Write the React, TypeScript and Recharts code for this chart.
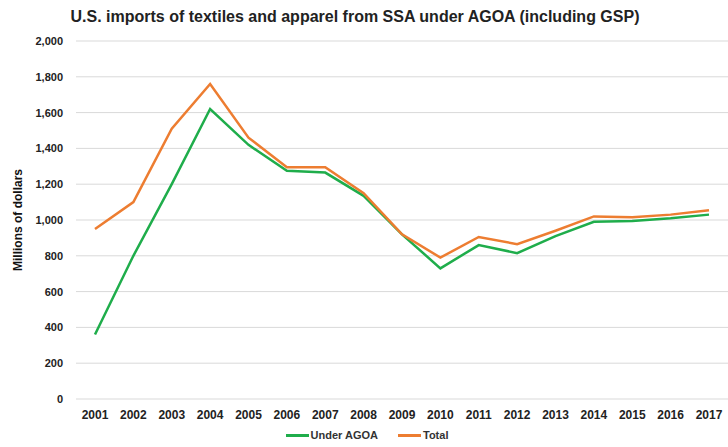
import { LineChart, Line, XAxis, YAxis, CartesianGrid, Legend } from "recharts";

const years = ["2001", "2002", "2003", "2004", "2005", "2006", "2007", "2008", "2009", "2010", "2011", "2012", "2013", "2014", "2015", "2016", "2017"];
const underAgoa = [360, 800, 1200, 1620, 1420, 1275, 1265, 1135, 920, 730, 860, 815, 910, 990, 995, 1010, 1030];
const total = [950, 1100, 1510, 1760, 1460, 1295, 1295, 1150, 920, 790, 905, 865, 940, 1020, 1015, 1030, 1055];
const yTicks = [0, 200, 400, 600, 800, 1000, 1200, 1400, 1600, 1800, 2000];

const GREEN = "#1fad4b";
const ORANGE = "#ed7d31";
const FONT = "'Liberation Sans', Arial, sans-serif";

const data = years.map((year, i) => ({ year, underAgoa: underAgoa[i], total: total[i] }));

const LegendContent = () => (
  <div style={{ display: "flex", justifyContent: "center", gap: 20, fontFamily: FONT, fontSize: 11, fontWeight: 700, color: "#333", paddingRight: 10 }}>
    {[
      { label: "Under AGOA", color: GREEN },
      { label: "Total", color: ORANGE },
    ].map((item) => (
      <div key={item.label} style={{ display: "flex", alignItems: "center" }}>
        <span style={{ display: "inline-block", width: 23, height: 3, background: item.color, marginRight: 2 }} />
        {item.label}
      </div>
    ))}
  </div>
);

export default function App() {
  return (
    <div style={{ position: "absolute", left: 0, top: 0, width: 728, height: 447, background: "#fff" }}>
      <div style={{ position: "absolute", left: 0, top: 8, width: 710, textAlign: "center", fontFamily: FONT, fontSize: 16, fontWeight: 700, color: "#222" }}>
        U.S. imports of textiles and apparel from SSA under AGOA (including GSP)
      </div>
      <LineChart width={728} height={447} data={data} margin={{ top: 41, right: 0, bottom: 0, left: 16 }}>
        <CartesianGrid horizontal vertical={false} stroke="#d9d9d9" />
        <XAxis
          dataKey="year"
          axisLine={false}
          tickLine={false}
          tickSize={0}
          tickMargin={11}
          interval={0}
          height={30}
          padding={{ left: 19, right: 19 }}
          tick={{ fontFamily: FONT, fontSize: 12, fontWeight: 700, fill: "#222" }}
        />
        <YAxis
          width={60}
          domain={[0, 2000]}
          ticks={yTicks}
          interval={0}
          axisLine={false}
          tickLine={false}
          tickSize={0}
          tickMargin={13}
          tickFormatter={(v: number) => v.toLocaleString("en-US")}
          tick={{ fontFamily: FONT, fontSize: 11, fontWeight: 700, fill: "#222" }}
          label={{ value: "Millions of dollars", angle: -90, position: "insideLeft", offset: 2, style: { fontFamily: FONT, fontSize: 12, fontWeight: 700, fill: "#111", textAnchor: "middle" } }}
        />
        <Legend verticalAlign="bottom" height={18} content={<LegendContent />} />
        <Line type="linear" dataKey="underAgoa" stroke={GREEN} strokeWidth={2.5} dot={false} isAnimationActive={false} />
        <Line type="linear" dataKey="total" stroke={ORANGE} strokeWidth={2.5} dot={false} isAnimationActive={false} />
      </LineChart>
    </div>
  );
}
